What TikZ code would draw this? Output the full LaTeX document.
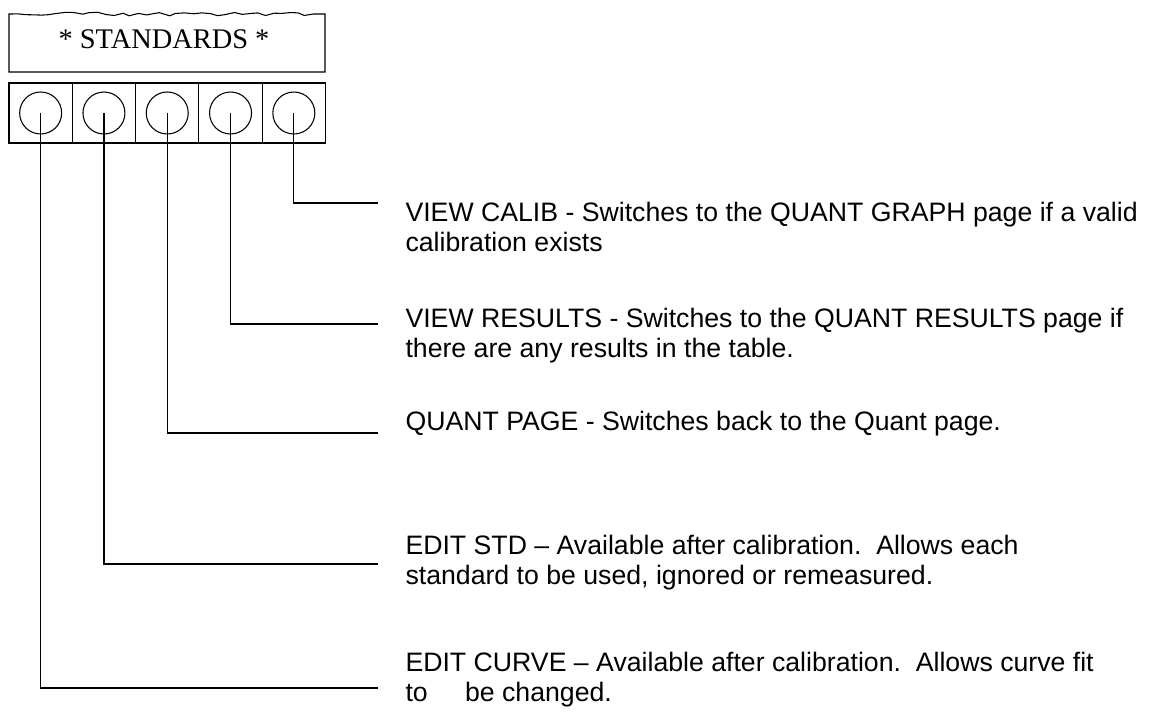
\documentclass[tikz,border=0pt]{standalone}
\usepackage{fontspec}
\setmainfont{Liberation Serif}
\newfontfamily\descfont{Liberation Sans}
\usetikzlibrary{decorations.pathmorphing}

\newcommand*{\leadend}{378}
\newcommand*{\descx}{405}
\newcommand*{\keyw}{63.3}

\begin{document}
\begin{tikzpicture}
[
	x=0.75pt, y=-0.75pt,
	line width=0.8pt,
	keybox/.style={rectangle,draw,inner sep=0pt,minimum width=47.5pt,minimum height=45pt},
	knob/.style={circle,draw,inner sep=0pt,minimum size=31.5pt},
	lead/.style={line width=0.9pt},
	desc/.style={anchor=north west,inner sep=0pt,align=left,font=\descfont\fontsize{20}{22.5}\selectfont}
]
	\useasboundingbox (0,0) rectangle (1150,711);

	% title box with torn top edge
	\pgfmathsetseed{11}
	\draw (9,72) -- (9,14)
		decorate[decoration={random steps,segment length=6pt,amplitude=1.6pt}] {-- (325,14)}
		-- (325,72) -- cycle;
	\node[font=\fontsize{21.3}{24}\selectfont] (title) at (164,39) {* STANDARDS *};

	% soft keys
	\foreach \i in {1,...,5} {
		\node[keybox] (btn\i) at ({9+\keyw*(\i-0.5)},113) {};
		\node[knob] (knob\i) at (btn\i.center) {};
	}

	% descriptions
	\node[desc] (d5) at (\descx,202) {VIEW CALIB - Switches to the QUANT GRAPH page if a valid\\calibration exists};
	\node[desc] (d4) at (\descx,308) {VIEW RESULTS - Switches to the QUANT RESULTS page if\\there are any results in the table.};
	\node[desc] (d3) at (\descx,411) {QUANT PAGE - Switches back to the Quant page.};
	\node[desc] (d2) at (\descx,535) {EDIT STD – Available after calibration.\ \ Allows each\\standard to be used, ignored or remeasured.};
	\node[desc] (d1) at (\descx,652) {EDIT CURVE – Available after calibration.\ \ Allows curve fit\\to\hspace{28pt}be changed.};

	% leader lines
	\foreach \i/\y in {5/203,4/324,3/433,2/564,1/688} {
		\coordinate (end\i) at (\leadend,\y);
		\draw[lead] (knob\i.center) |- (end\i);
	}

\end{tikzpicture}
\end{document}
